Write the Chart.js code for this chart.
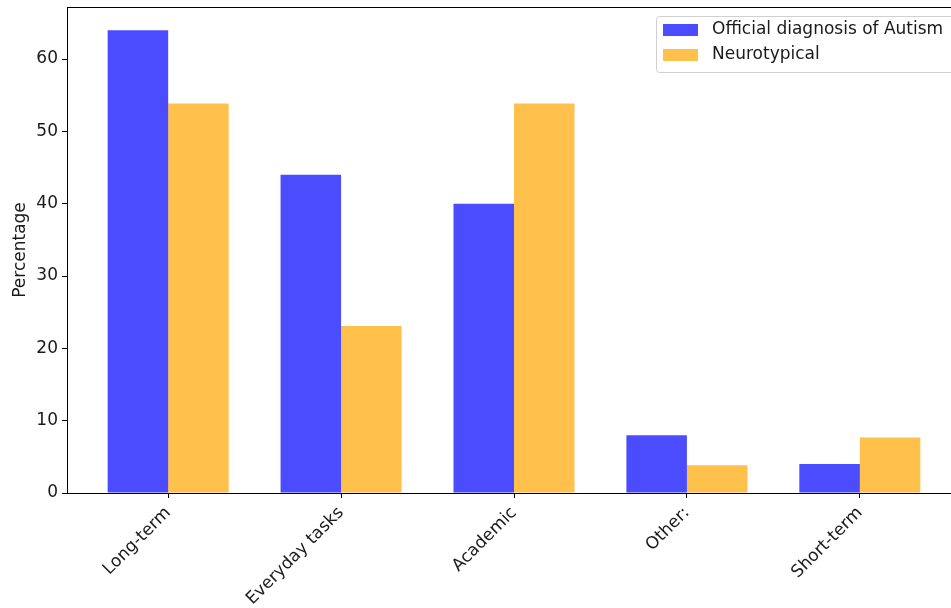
<!DOCTYPE html>
<html>
<head>
<meta charset="utf-8">
<script src="https://cdn.jsdelivr.net/npm/chart.js@4.4.4/dist/chart.umd.min.js"></script>
<style>
  html, body { margin: 0; padding: 0; background: #fff; overflow: hidden; }
  #wrap { width: 980px; height: 608px; }
</style>
</head>
<body>
<div id="wrap"><canvas id="chart" width="980" height="608"></canvas></div>
<script>
const categories = ["Long-term", "Everyday tasks", "Academic", "Other:", "Short-term"];
const autismValues = [64, 44, 40, 8, 4];
const neurotypicalValues = [53.85, 23.08, 53.85, 3.85, 7.69];
const seriesLabels = ["Official diagnosis of Autism", "Neurotypical"];
const yTicks = [0, 10, 20, 30, 40, 50, 60];

const FONT = "DejaVu Sans";
const FS = 17;
const blue = "rgba(0, 0, 255, 0.7)";
const orange = "rgba(255, 165, 0, 0.7)";

// box around the whole plot area (matplotlib spines)
const framePlugin = {
    id: "frame",
    afterDatasetsDraw(chart) {
        const {ctx, chartArea: a} = chart;
        ctx.save();
        ctx.strokeStyle = "#000";
        ctx.lineWidth = 1;
        ctx.strokeRect(a.left + 0.5, a.top + 0.5, a.right - a.left, a.bottom - a.top);
        ctx.restore();
    },
};

// legend drawn inside the axes, top right
const legendPlugin = {
    id: "innerLegend",
    afterDraw(chart) {
        const {ctx, chartArea: a} = chart;
        const x = 656, y = 16, w = a.right - 7 - 656, h = 56;
        ctx.save();
        ctx.beginPath();
        ctx.roundRect(x + 0.5, y + 0.5, w, h, 3);
        ctx.fillStyle = "rgba(255,255,255,0.8)";
        ctx.fill();
        ctx.strokeStyle = "#d0d0d0";
        ctx.lineWidth = 1;
        ctx.stroke();
        const colors = [blue, orange];
        ctx.font = FS + "px '" + FONT + "'";
        ctx.textBaseline = "middle";
        seriesLabels.forEach((label, i) => {
            const cy = 30 + i * 25;
            ctx.fillStyle = colors[i];
            ctx.fillRect(663, cy - 6, 35, 12);
            ctx.fillStyle = "#1a1a1a";
            ctx.fillText(label, 712, cy);
        });
        ctx.restore();
    },
};

new Chart(document.getElementById("chart"), {
    type: "bar",
    data: {
        datasets: [
            {
                label: seriesLabels[0],
                data: autismValues.map((v, i) => ({x: i, y: v})),
                backgroundColor: blue,
            },
            {
                label: seriesLabels[1],
                data: neurotypicalValues.map((v, i) => ({x: i, y: v})),
                backgroundColor: orange,
            },
        ],
    },
    options: {
        responsive: false,
        animation: false,
        datasets: {
            bar: {categoryPercentage: 0.7, barPercentage: 1.0},
        },
        layout: {padding: {left: 10, top: 7, right: 19, bottom: 0}},
        plugins: {legend: {display: false}, tooltip: {enabled: false}},
        scales: {
            x: {
                type: "linear",
                offset: false,
                min: -0.585,
                max: 4.585,
                afterBuildTicks: (s) => { s.ticks = categories.map((c, i) => ({value: i})); },
                afterFit: (s) => { s.height = 115; s.paddingLeft = 0; s.paddingRight = 0; },
                grid: {display: true, offset: false, drawOnChartArea: false, drawTicks: true, tickLength: 5, color: "#000"},
                border: {display: true, color: "#000"},
                ticks: {
                    autoSkip: false,
                    minRotation: 45,
                    maxRotation: 45,
                    padding: 5,
                    color: "#1a1a1a",
                    font: {family: FONT, size: FS},
                    callback: (v) => categories[v],
                },
            },
            y: {
                min: 0,
                max: 67.2,
                afterBuildTicks: (s) => { s.ticks = yTicks.map((v) => ({value: v})); },
                afterFit: (s) => { s.width = 57; s.paddingTop = 0; s.paddingBottom = 0; },
                grid: {display: true, drawOnChartArea: false, drawTicks: true, tickLength: 5, color: "#000"},
                border: {display: true, color: "#000"},
                title: {
                    display: true,
                    text: "Percentage",
                    color: "#1a1a1a",
                    font: {family: FONT, size: FS},
                    padding: {top: 0, bottom: 0},
                },
                ticks: {
                    padding: 4,
                    color: "#1a1a1a",
                    font: {family: FONT, size: FS},
                },
            },
        },
    },
    plugins: [framePlugin, legendPlugin],
});
</script>
</body>
</html>
